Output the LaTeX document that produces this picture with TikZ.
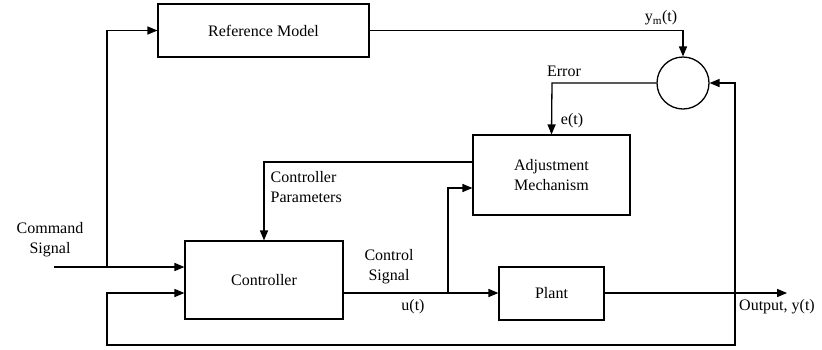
\documentclass[tikz,border=0pt]{standalone}
\usepackage{fontspec}
\setmainfont{Liberation Serif}
\usepackage{tikz}
\usetikzlibrary{arrows}

\begin{document}
\begin{tikzpicture}[x=1pt, y=-1pt,
						line width=1.3pt,
						block/.style 2 args={draw, rectangle, minimum width=#1, minimum height=#2, inner sep=0pt},
						lbl/.style={inner sep=0pt, font=\fontsize{16}{20}\selectfont},
						sig/.style={-triangle 45}
					]
					\useasboundingbox (0,0) rectangle (822,349);
					\node[block={211pt}{53pt}, lbl] (refmodel) at (263.5,30.5) {Reference Model};
					\node[draw, circle, minimum size=52pt, inner sep=0pt] (sum) at (683,83) {};
					\node[block={157pt}{80pt}, lbl, align=center] (adjust) at (551.5,175) {Adjustment\\Mechanism};
					\node[block={158pt}{78pt}, lbl] (controller) at (264,280) {Controller};
					\node[block={105pt}{53pt}, lbl] (plant) at (551.5,293.5) {Plant};
					% corners and free ends
					\coordinate (cmd) at (54,267);
					\coordinate (split) at (107,267);
					\coordinate (ymcorner) at (683,30);
					\coordinate (errcorner) at (552,83);
					\coordinate (parcorner) at (264,162);
					\coordinate (branch) at (448,293);
					\coordinate (outend) at (787,293);
					\coordinate (fbright) at (735,345);
					\coordinate (fbleft) at (107,345);
					% connectors
					\draw[sig] (cmd) -- (controller.west |- cmd);
					\draw[sig] (split) |- (refmodel.west);
					\draw[sig] (refmodel.east) -| (ymcorner) -- (sum.north);
					\draw[sig] (sum.west) -- (errcorner) -- (adjust.north);
					\draw[sig] (adjust.west |- parcorner) -- (parcorner) -- (controller.north);
					\draw[sig] (controller.east |- branch) -- (plant.west |- branch);
					\draw[sig] (branch) |- (adjust.west |- 0,188);
					\draw[sig] (plant.east |- outend) -- (outend);
					\draw[sig] (fbright |- outend) -- (fbright) -- (fbleft) |- (controller.west |- branch);
					\draw[sig] (fbright |- outend) |- (sum.east);
					% labels
					\node[lbl] (ymlbl) at (661,18) {y\textsubscript{m}(t)};
					\node[lbl] (errlbl) at (564,71) {Error};
					\node[lbl] (elbl) at (572,121) {e(t)};
					\node[lbl, anchor=west, align=left] (parlbl) at (270,187) {Controller\\Parameters};
					\node[lbl, align=center] (cmdlbl) at (50,240) {Command\\Signal};
					\node[lbl, align=center] (ctrllbl) at (389,267) {Control\\Signal};
					\node[lbl] (ulbl) at (413,307) {u(t)};
					\node[lbl] (outlbl) at (777,307) {Output, y(t)};
				\end{tikzpicture}
\end{document}
